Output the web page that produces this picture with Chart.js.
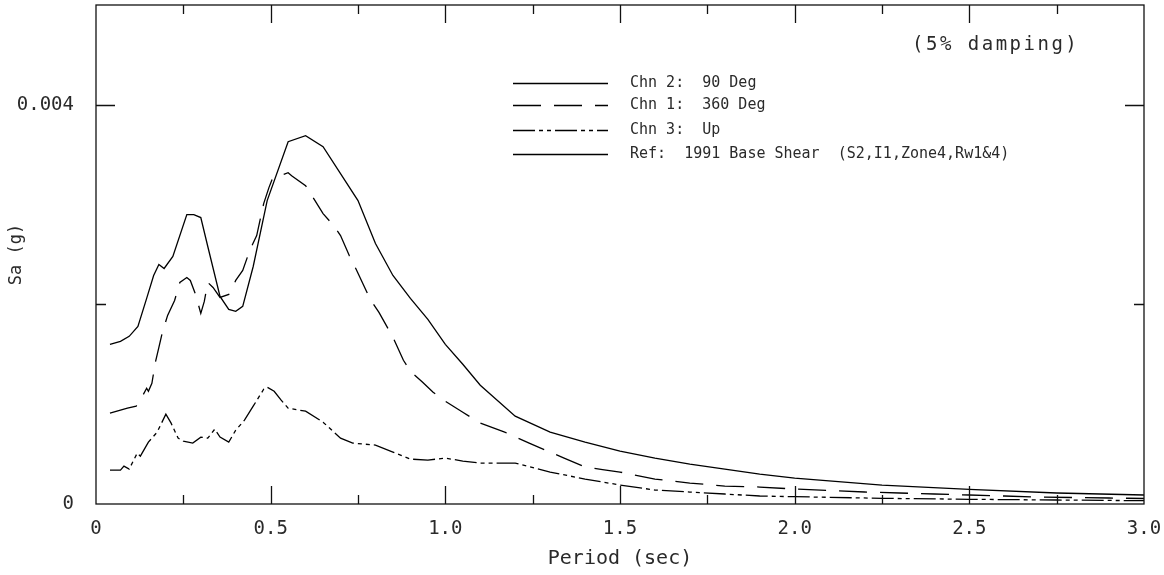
<!DOCTYPE html>
<html>
<head>
<meta charset="utf-8">
<script src="https://cdn.jsdelivr.net/npm/chart.js@4.4.1/dist/chart.umd.min.js"></script>
<style>
  html, body { margin: 0; padding: 0; background: #fff; }
  #wrap { width: 1164px; height: 575px; }
</style>
</head>
<body>
<div id="wrap"><canvas id="chart" width="1164" height="575"></canvas></div>
<script>
// response spectra, Sa in g against period in sec
var chn2Period = [0.04, 0.07, 0.095, 0.12, 0.145, 0.165, 0.18, 0.195, 0.22, 0.26, 0.28, 0.30, 0.32, 0.355, 0.38, 0.40, 0.42, 0.45, 0.49, 0.55, 0.60, 0.65, 0.75, 0.80, 0.85, 0.90, 0.95, 1.00, 1.05, 1.10, 1.20, 1.30, 1.40, 1.50, 1.60, 1.70, 1.80, 1.90, 2.00, 2.25, 2.50, 2.75, 3.00];
var chn2Sa = [0.00160, 0.00163, 0.00168, 0.00178, 0.00206, 0.00229, 0.00240, 0.00236, 0.00248, 0.00290, 0.00290, 0.00287, 0.00258, 0.00208, 0.00195, 0.00193, 0.00198, 0.00238, 0.00304, 0.00363, 0.00369, 0.00358, 0.00304, 0.00261, 0.00229, 0.00206, 0.00185, 0.00160, 0.00140, 0.00119, 0.00088, 0.00072, 0.00062, 0.00053, 0.00046, 0.00040, 0.00035, 0.00030, 0.00026, 0.00019, 0.000147, 0.00011, 0.00009];

var chn1Period = [0.04, 0.07, 0.09, 0.115, 0.125, 0.145, 0.15, 0.16, 0.17, 0.18, 0.19, 0.205, 0.225, 0.24, 0.26, 0.27, 0.285, 0.30, 0.31, 0.32, 0.335, 0.355, 0.38, 0.40, 0.42, 0.44, 0.46, 0.48, 0.495, 0.505, 0.55, 0.56, 0.60, 0.65, 0.68, 0.70, 0.725, 0.745, 0.785, 0.81, 0.85, 0.88, 0.90, 0.935, 0.965, 1.00, 1.05, 1.10, 1.17, 1.24, 1.30, 1.34, 1.40, 1.45, 1.50, 1.60, 1.70, 1.80, 1.90, 2.00, 2.10, 2.20, 2.30, 2.40, 2.50, 2.60, 2.70, 2.80, 2.90, 3.00];
var chn1Sa = [0.00091, 0.00094, 0.00096, 0.00098, 0.00103, 0.00116, 0.00113, 0.00121, 0.00142, 0.00157, 0.00172, 0.00189, 0.00204, 0.00222, 0.00227, 0.00224, 0.00210, 0.00191, 0.00203, 0.00222, 0.00217, 0.00207, 0.00210, 0.00224, 0.00234, 0.00254, 0.00269, 0.00301, 0.00317, 0.00326, 0.00332, 0.00329, 0.00319, 0.00291, 0.00279, 0.00269, 0.00249, 0.00235, 0.00205, 0.00192, 0.00167, 0.00144, 0.00133, 0.00122, 0.00112, 0.00103, 0.00092, 0.00081, 0.00072, 0.00061, 0.00052, 0.00046, 0.00037, 0.000345, 0.00032, 0.00025, 0.00021, 0.00018, 0.00017, 0.00015, 0.000135, 0.00012, 0.00011, 0.00010, 0.00009, 0.00008, 0.00007, 0.000065, 0.00006, 0.000055];

var chn3Period = [0.04, 0.07, 0.08, 0.095, 0.118, 0.127, 0.15, 0.175, 0.20, 0.215, 0.235, 0.25, 0.277, 0.30, 0.32, 0.34, 0.355, 0.38, 0.40, 0.425, 0.45, 0.48, 0.49, 0.51, 0.53, 0.55, 0.60, 0.65, 0.70, 0.735, 0.80, 0.85, 0.90, 0.95, 1.00, 1.05, 1.10, 1.20, 1.30, 1.40, 1.50, 1.60, 1.70, 1.80, 1.90, 2.00, 2.10, 2.25, 2.50, 2.75, 3.00];
var chn3Sa = [0.00034, 0.00034, 0.00038, 0.00035, 0.00051, 0.00048, 0.00062, 0.00072, 0.00090, 0.00081, 0.00066, 0.00063, 0.00061, 0.00067, 0.00066, 0.00075, 0.00067, 0.00062, 0.00074, 0.00084, 0.00098, 0.00115, 0.00117, 0.00113, 0.00104, 0.00096, 0.00093, 0.00082, 0.00066, 0.00061, 0.00059, 0.00052, 0.00045, 0.00044, 0.00046, 0.00043, 0.00041, 0.00041, 0.00032, 0.00025, 0.00019, 0.00014, 0.00012, 0.00010, 0.00008, 0.000073, 0.000067, 0.000057, 0.000047, 0.00004, 0.000033];

// reference curve is off scale in this plot, only its legend entry shows
var refPeriod = [];
var refSa = [];

var seriesNames = ['Chn 2:  90 Deg', 'Chn 1:  360 Deg', 'Chn 3:  Up', 'Ref:  1991 Base Shear  (S2,I1,Zone4,Rw1&4)'];
var xTickValues = [0, 0.5, 1.0, 1.5, 2.0, 2.5, 3.0];
var yLabelValues = [0, 0.004];

var FONT = '"DejaVu Sans Mono", monospace';
var INK = '#2a2a2a';

function pts(px, py) {
  var out = [];
  for (var i = 0; i < px.length; i++) out.push({ x: px[i], y: py[i] });
  return out;
}

function lineSet(label, px, py, dash) {
  return {
    label: label,
    data: pts(px, py),
    borderColor: '#000',
    borderWidth: 1.3,
    borderDash: dash,
    pointRadius: 0,
    tension: 0,
    fill: false
  };
}

// frame with inward ticks, in-plot legend and damping note
var framePlugin = {
  id: 'frame',
  afterDraw: function(chart) {
    var ctx = chart.ctx, a = chart.chartArea;
    var xs = chart.scales.x, ys = chart.scales.y;
    ctx.save();
    ctx.strokeStyle = '#111';
    ctx.lineWidth = 1.3;
    ctx.setLineDash([]);
    ctx.strokeRect(a.left, a.top, a.right - a.left, a.bottom - a.top);

    ctx.beginPath();
    for (var v = 0.25; v < 3.0; v += 0.25) {
      var px = Math.round(xs.getPixelForValue(v)) + 0.5;
      var major = Math.abs(v / 0.5 - Math.round(v / 0.5)) < 1e-6;
      var len = major ? 18 : 9;
      ctx.moveTo(px, a.bottom); ctx.lineTo(px, a.bottom - len);
      ctx.moveTo(px, a.top); ctx.lineTo(px, a.top + len);
    }
    for (var w = 0.002; w < 0.005; w += 0.002) {
      var py = Math.round(ys.getPixelForValue(w)) + 0.5;
      var maj = Math.abs(w - 0.004) < 1e-9;
      var l2 = maj ? 19 : 10;
      ctx.moveTo(a.left, py); ctx.lineTo(a.left + l2, py);
      ctx.moveTo(a.right, py); ctx.lineTo(a.right - l2, py);
    }
    ctx.stroke();

    // legend
    var rows = [83, 105, 130, 154];
    ctx.fillStyle = INK;
    ctx.font = '15px ' + FONT;
    ctx.textBaseline = 'middle';
    ctx.textAlign = 'left';
    chart.data.datasets.forEach(function(ds, i) {
      var y = rows[i] + 0.5;
      ctx.strokeStyle = '#000';
      ctx.lineWidth = 1.3;
      ctx.setLineDash(ds.borderDash || []);
      ctx.beginPath();
      ctx.moveTo(513, y); ctx.lineTo(608, y);
      ctx.stroke();
      ctx.setLineDash([]);
      ctx.fillText(ds.label, 630, rows[i]);
    });

    ctx.font = '19px ' + FONT;
    ctx.letterSpacing = '2.5px';
    ctx.fillText('(5% damping)', 912, 45);
    ctx.letterSpacing = '0px';
    ctx.restore();
  }
};

var chart = new Chart(document.getElementById('chart').getContext('2d'), {
  type: 'line',
  data: {
    datasets: [
      lineSet(seriesNames[0], chn2Period, chn2Sa, []),
      lineSet(seriesNames[1], chn1Period, chn1Sa, [28, 13]),
      lineSet(seriesNames[2], chn3Period, chn3Sa, [22, 4, 4, 4, 4, 4]),
      lineSet(seriesNames[3], refPeriod, refSa, [])
    ]
  },
  options: {
    responsive: false,
    animation: false,
    layout: { padding: { left: 0, right: 20, top: 5, bottom: 0 } },
    plugins: { legend: { display: false }, tooltip: { enabled: false } },
    scales: {
      x: {
        type: 'linear',
        min: 0, max: 3.0,
        grid: { display: false, drawTicks: false },
        border: { display: false },
        afterBuildTicks: function(s) { s.ticks = xTickValues.map(function(v) { return { value: v }; }); },
        afterFit: function(s) { s.height = 71; s.paddingLeft = 0; s.paddingRight = 0; },
        ticks: {
          padding: 14,
          color: INK,
          font: { family: FONT, size: 19 },
          maxRotation: 0,
          callback: function(v) { return v === 0 ? '0' : v.toFixed(1); }
        },
        title: { display: true, text: 'Period (sec)', color: INK, font: { family: FONT, size: 20 }, padding: { top: 0, bottom: 4 } }
      },
      y: {
        type: 'linear',
        min: 0, max: 0.005,
        grid: { display: false, drawTicks: false },
        border: { display: false },
        afterBuildTicks: function(s) { s.ticks = yLabelValues.map(function(v) { return { value: v }; }); },
        afterFit: function(s) { s.width = 96; s.paddingTop = 0; s.paddingBottom = 0; },
        ticks: {
          padding: 22,
          color: INK,
          font: { family: FONT, size: 19 },
          callback: function(v) { return v === 0 ? '0' : String(v); }
        },
        title: { display: true, text: 'Sa (g)', color: INK, font: { family: FONT, size: 17 }, padding: { top: 6, bottom: 0 } }
      }
    }
  },
  plugins: [framePlugin]
});
</script>
</body>
</html>
